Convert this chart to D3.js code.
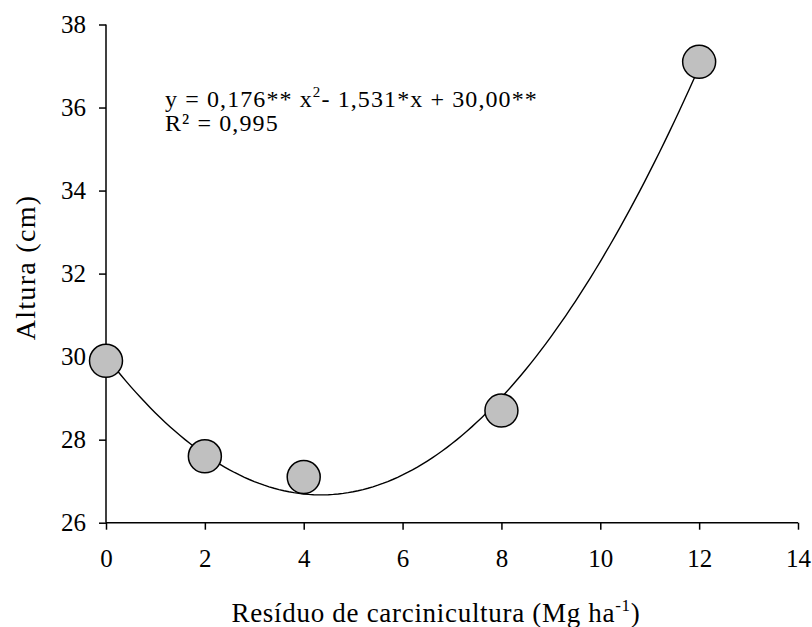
<!DOCTYPE html>
<html>
<head>
<meta charset="utf-8">
<script src="https://cdn.jsdelivr.net/npm/d3@7"></script>
<style>
  body { margin: 0; background: white; }
  svg text { font-family: "Liberation Serif", "Times New Roman", Tinos, "DejaVu Serif", serif; fill: black; }
</style>
</head>
<body>
<div id="container"></div>
<script>
let w = 812;
let h = 627;
let serif = "'Liberation Serif', 'Times New Roman', Tinos, 'DejaVu Serif', serif";

// DATA
let doses = [0, 2, 4, 8, 12];
let altura = [29.9, 27.6, 27.1, 28.7, 37.1];
// fitted quadratic: a*x^2 + b*x + c
let coefs = [0.176, -1.531, 30.00];
let xTicks = [0, 2, 4, 6, 8, 10, 12, 14];
let yTicks = [26, 28, 30, 32, 34, 36, 38];

let padLeft = 106, padRight = 798, padTop = 24.5, padBottom = 522.7;

let viz = d3.select("#container").append("svg")
    .attr("width", w)
    .attr("height", h)
    .style("font-family", serif)
;

let xScale = d3.scaleLinear().domain([0, 14]).range([padLeft, padRight]);
let yScale = d3.scaleLinear().domain([26, 38]).range([padBottom, padTop]);

// AXES
let xAxis = d3.axisBottom(xScale).tickValues(xTicks).tickSize(7).tickPadding(20).tickFormat(d3.format("d"));
let yAxis = d3.axisLeft(yScale).tickValues(yTicks).tickSize(7).tickPadding(13).tickFormat(d3.format("d"));

let xG = viz.append("g").attr("transform", "translate(0," + padBottom + ")").call(xAxis);
let yG = viz.append("g").attr("transform", "translate(" + padLeft + ",0)").call(yAxis);

[xG, yG].forEach(function(g) {
  g.attr("font-family", null).attr("font-size", null);
  g.select(".domain").attr("stroke", "black").attr("stroke-width", 1.5);
  g.selectAll(".tick line").attr("stroke", "black").attr("stroke-width", 1.5);
  g.selectAll(".tick text")
    .style("font-family", serif)
    .style("font-size", "25px")
    .attr("fill", "black");
});
// domain paths without outer tick stubs
xG.select(".domain").attr("d", "M" + padLeft + ",0H" + padRight);
yG.select(".domain").attr("d", "M0," + padBottom + "V" + padTop);

// FITTED CURVE
let curveX = d3.range(0, 12.001, 0.1);
let lineMaker = d3.line()
    .x(function(d) { return xScale(d); })
    .y(function(d) { return yScale(coefs[0] * d * d + coefs[1] * d + coefs[2]); })
;
viz.append("path")
    .datum(curveX)
    .attr("d", lineMaker)
    .attr("fill", "none")
    .attr("stroke", "black")
    .attr("stroke-width", 1.4)
;

// POINTS
viz.selectAll(".pt").data(doses).enter()
  .append("circle")
    .attr("class", "pt")
    .attr("cx", function(d) { return xScale(d); })
    .attr("cy", function(d, i) { return yScale(altura[i]); })
    .attr("r", 16.5)
    .attr("fill", "#c0c0c0")
    .attr("stroke", "black")
    .attr("stroke-width", 1.5)
;

// EQUATION
let eq = viz.append("text").attr("x", 165).attr("y", 106.7)
    .style("font-size", "24px").style("letter-spacing", "1.1px");
eq.append("tspan").text("y = 0,176** x");
eq.append("tspan").attr("dy", -10).style("font-size", "15px").text("2");
eq.append("tspan").attr("dy", 10).text("- 1,531*x + 30,00**");
viz.append("text").attr("x", 165).attr("y", 131)
    .style("font-size", "24px").style("letter-spacing", "1.1px").text("R² = 0,995");

// AXIS TITLES
let xt = viz.append("text").attr("x", 436).attr("y", 621.5)
    .style("font-size", "27px").style("letter-spacing", "0.7px").attr("text-anchor", "middle");
xt.append("tspan").text("Resíduo de carcinicultura (Mg ha");
xt.append("tspan").attr("dy", -11).style("font-size", "17px").text("-1");
xt.append("tspan").attr("dy", 11).text(")");

viz.append("text")
    .attr("transform", "translate(35,267.5) rotate(-90)")
    .attr("text-anchor", "middle")
    .style("font-size", "28px")
    .style("letter-spacing", "1.3px")
    .text("Altura (cm)")
;
</script>
</body>
</html>
